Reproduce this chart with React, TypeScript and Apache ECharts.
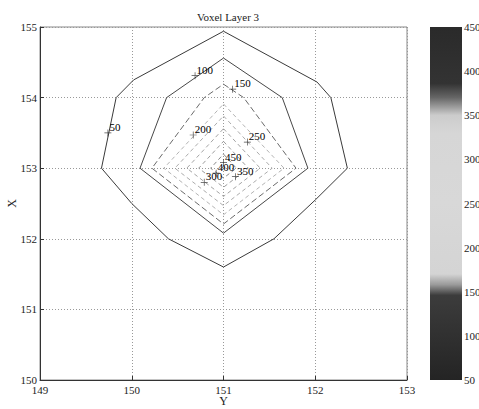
import { useEffect, useRef } from "react";
import * as echarts from "echarts";

const chartTitle = "Voxel Layer 3";
const horizontalName = "Y";
const verticalName = "X";
const horizontalRange = [149, 153];
const verticalRange = [150, 155];
const colorbarRange = [50, 450];

// contour polylines, points are [Y, X]
const contour50 = [[151, 154.94], [152.02, 154.22], [152.17, 154], [152.35, 153], [152, 152.55], [151.55, 152], [151, 151.6], [150.4, 152], [150, 152.5], [149.67, 153], [149.83, 154], [150.02, 154.25], [151, 154.94]];
const contour100 = [[151, 154.56], [151.64, 154], [151.92, 153], [151, 152.08], [150.09, 153], [150.38, 154], [151, 154.56]];
const contour150 = [[151, 154.19], [151.22, 154], [151.79, 153], [151, 152.21], [150.22, 153], [150.79, 154], [151, 154.19]];
const contour200 = [[151, 153.91], [151.66, 153], [151, 152.34], [150.35, 153], [151, 153.91]];
const contour250 = [[151, 153.74], [151.53, 153], [151, 152.47], [150.47, 153], [151, 153.74]];
const contour300 = [[151, 153.56], [151.4, 153], [151, 152.6], [150.6, 153], [151, 153.56]];
const contour350 = [[151, 153.38], [151.27, 153], [151, 152.73], [150.73, 153], [151, 153.38]];
const contour400 = [[151, 153.2], [151.14, 153], [151, 152.86], [150.86, 153], [151, 153.2]];
const contour450 = [[151, 153.03], [151.02, 153], [151, 152.98], [150.98, 153], [151, 153.03]];

const contours = [contour50, contour100, contour150, contour200, contour250, contour300, contour350, contour400, contour450];
const contourLevels = ["50", "100", "150", "200", "250", "300", "350", "400", "450"];

// label markers
const labelTexts = ["50", "100", "150", "200", "250", "300", "350", "400", "450"];
const labelY = [149.74, 150.69, 151.1, 150.67, 151.26, 150.79, 151.13, 150.92, 151.0];
const labelX = [153.5, 154.31, 154.12, 153.47, 153.37, 152.8, 152.88, 152.93, 153.08];

const lineColors = ["#3a3a3a", "#474747", "#6a6a6a", "#b4b4b4", "#acacac", "#a4a4a4", "#9c9c9c", "#8a8a8a", "#7a7a7a"];
const lineTypes: any[] = ["solid", "solid", [6, 3], [4, 3], [4, 3], [4, 3], [4, 3], [4, 3], [4, 3]];

const serif = "Liberation Serif";

export default function App() {
  const ref = useRef<HTMLDivElement>(null);
  useEffect(() => {
    if (!ref.current) return;
    const chart = echarts.init(ref.current, undefined, { renderer: "svg" });
    const lineSeries = contours.map((c, i) => ({
      type: "line",
      name: contourLevels[i],
      xAxisIndex: 0,
      yAxisIndex: 0,
      data: c,
      showSymbol: false,
      symbol: "none",
      color: lineColors[i],
      lineStyle: { color: lineColors[i], width: 1, type: lineTypes[i] },
      z: 3,
    }));
    const option: any = {
      animation: false,
      backgroundColor: "#ffffff",
      textStyle: { fontFamily: serif },
      title: {
        text: chartTitle,
        left: 223,
        top: 6,
        textAlign: "center",
        textStyle: { fontFamily: serif, fontSize: 11, fontWeight: "normal", color: "#222" },
      },
      grid: [
        { left: 40, top: 27, width: 367, height: 353, show: true, borderColor: "#888", borderWidth: 1, outerBoundsMode: "none", containLabel: false },
        { left: 430, top: 27, width: 32, height: 353, outerBoundsMode: "none", containLabel: false },
      ],
      xAxis: [
        {
          gridIndex: 0,
          type: "value",
          min: horizontalRange[0],
          max: horizontalRange[1],
          interval: 1,
          name: horizontalName,
          nameLocation: "middle",
          nameGap: 15,
          nameMoveOverlap: false,
          nameTextStyle: { fontFamily: serif, fontSize: 12, color: "#222", verticalAlign: "top" },
          axisLine: { lineStyle: { color: "#333", width: 1 } },
          axisTick: { inside: true, length: 4, lineStyle: { color: "#333" } },
          axisLabel: { fontFamily: serif, fontSize: 11, color: "#222", margin: 4 },
          splitLine: { show: true, lineStyle: { type: [1, 2], color: "#999", width: 1 } },
        },
        { gridIndex: 1, type: "category", data: ["cb"], show: false },
      ],
      yAxis: [
        {
          gridIndex: 0,
          type: "value",
          min: verticalRange[0],
          max: verticalRange[1],
          interval: 1,
          name: verticalName,
          nameLocation: "middle",
          nameGap: 22,
          nameRotate: 90,
          nameMoveOverlap: false,
          nameTextStyle: { fontFamily: serif, fontSize: 12, color: "#222" },
          axisLine: { lineStyle: { color: "#333", width: 1 } },
          axisTick: { inside: true, length: 4, lineStyle: { color: "#333" } },
          axisLabel: { fontFamily: serif, fontSize: 11, color: "#222", margin: 3 },
          splitLine: { show: true, lineStyle: { type: [1, 2], color: "#999", width: 1 } },
        },
        {
          gridIndex: 1,
          type: "value",
          min: colorbarRange[0],
          max: colorbarRange[1],
          interval: 50,
          position: "right",
          axisLine: { show: false },
          axisTick: { show: false },
          splitLine: { show: false },
          axisLabel: { fontFamily: serif, fontSize: 11, color: "#222", margin: 2 },
        },
      ],
      series: [
        ...lineSeries,
        {
          type: "scatter",
          xAxisIndex: 0,
          yAxisIndex: 0,
          symbol: "path://M4.5,0h1v4.5h4.5v1h-4.5v4.5h-1v-4.5h-4.5v-1h4.5z",
          symbolSize: 7,
          itemStyle: { color: "#222" },
          data: labelTexts.map((t, i) => ({ name: t, value: [labelY[i], labelX[i]] })),
          label: {
            show: true,
            position: "right",
            distance: 0,
            offset: [-2, -6],
            formatter: "{b}",
            fontFamily: serif,
            fontSize: 11,
            color: "#000",
            opacity: 1,
            textBorderWidth: 0,
            textShadowBlur: 0,
          },
          emphasis: { disabled: true },
          z: 5,
        },
        {
          type: "bar",
          xAxisIndex: 1,
          yAxisIndex: 1,
          stack: "cb",
          barWidth: "100%",
          data: [colorbarRange[0]],
          itemStyle: { color: "rgba(0,0,0,0)" },
          silent: true,
        },
        {
          type: "bar",
          xAxisIndex: 1,
          yAxisIndex: 1,
          stack: "cb",
          barWidth: "100%",
          data: [colorbarRange[1] - colorbarRange[0]],
          itemStyle: {
            color: {
              type: "linear",
              x: 0,
              y: 0,
              x2: 0,
              y2: 1,
              colorStops: [
                { offset: 0, color: "#2a2a2a" },
                { offset: 0.16, color: "#333333" },
                { offset: 0.2, color: "#666666" },
                { offset: 0.25, color: "#cccccc" },
                { offset: 0.3, color: "#d6d6d6" },
                { offset: 0.5, color: "#d8d8d8" },
                { offset: 0.7, color: "#d4d4d4" },
                { offset: 0.73, color: "#9a9a9a" },
                { offset: 0.76, color: "#3c3c3c" },
                { offset: 1, color: "#242424" },
              ],
            },
          },
          silent: true,
        },
      ],
    };
    chart.setOption(option);
    return () => chart.dispose();
  }, []);
  return <div ref={ref} style={{ position: "absolute", left: 0, top: 0, width: 479, height: 409 }} />;
}
